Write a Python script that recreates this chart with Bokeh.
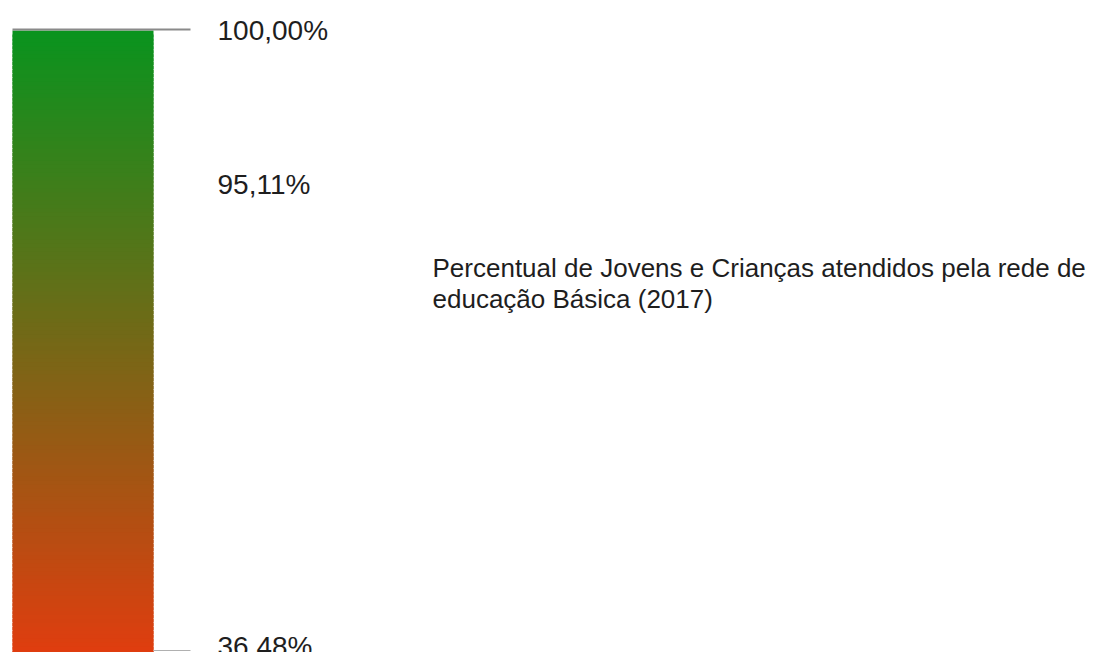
import numpy as np
from bokeh.plotting import figure
from bokeh.models import Range1d, LinearColorMapper, ColumnDataSource
from bokeh.core.properties import value
from bokeh.embed import file_html
from bokeh.resources import INLINE

# data
values = [100.00, 95.11, 36.48]
tick_labels = ["100,00%", "95,11%", "36,48%"]
legend_title = ["Percentual de Jovens e Crianças atendidos pela rede de",
                "educação Básica (2017)"]
color_low = (226, 60, 15)    # 36,48%
color_high = (10, 147, 30)   # 100,00%

# layout (pixel positions)
W, H = 1096, 652
bar_left, bar_right = 12, 153
bar_top, bar_bottom = 30, 662
label_y = [30, 184, 646]
label_x = 217

n = 256
palette = []
for i in range(n):
    t = i / (n - 1)
    r = round(color_low[0] + (color_high[0] - color_low[0]) * t)
    g = round(color_low[1] + (color_high[1] - color_low[1]) * t)
    b = round(color_low[2] + (color_high[2] - color_low[2]) * t)
    palette.append("#%02x%02x%02x" % (r, g, b))

vmin, vmax = min(values), max(values)
mapper = LinearColorMapper(palette=palette, low=vmin, high=vmax)

p = figure(width=W, height=H, output_backend="svg", toolbar_location=None,
           x_range=Range1d(0, W), y_range=Range1d(H, 0), min_border=0)
p.axis.visible = False
p.grid.visible = False
p.outline_line_color = None
p.background_fill_color = "white"

# gradient strips (overlapping to avoid seams)
steps = 160
edges = np.linspace(bar_top, bar_bottom, steps + 1)
grad_vals = np.linspace(vmax, vmin, steps)
src = ColumnDataSource(dict(top=edges[:-1], bottom=np.minimum(edges[1:] + 3, bar_bottom),
                            val=grad_vals))
p.quad(left=bar_left, right=bar_right, top="top", bottom="bottom", source=src,
       fill_color={"field": "val", "transform": mapper}, line_color=None)

# tick lines
p.segment(x0=[bar_left], y0=[29], x1=[190], y1=[29],
          line_color="#8a8a8a", line_width=2)
p.segment(x0=[bar_right], y0=[650], x1=[190], y1=[650],
          line_color="#b0b0b0", line_width=1)

# labels
p.text(x=[label_x] * len(tick_labels), y=label_y, text=tick_labels,
       text_font=value("Liberation Sans"), text_font_size="28px",
       text_color="#1e1e1e", text_baseline="middle", text_align="left")

p.text(x=[432, 432], y=[267, 298], text=legend_title,
       text_font=value("Liberation Sans"), text_font_size="26px",
       text_color="#1e1e1e", text_baseline="alphabetic", text_align="left")

open("out.html", "w").write(file_html(p, INLINE))
